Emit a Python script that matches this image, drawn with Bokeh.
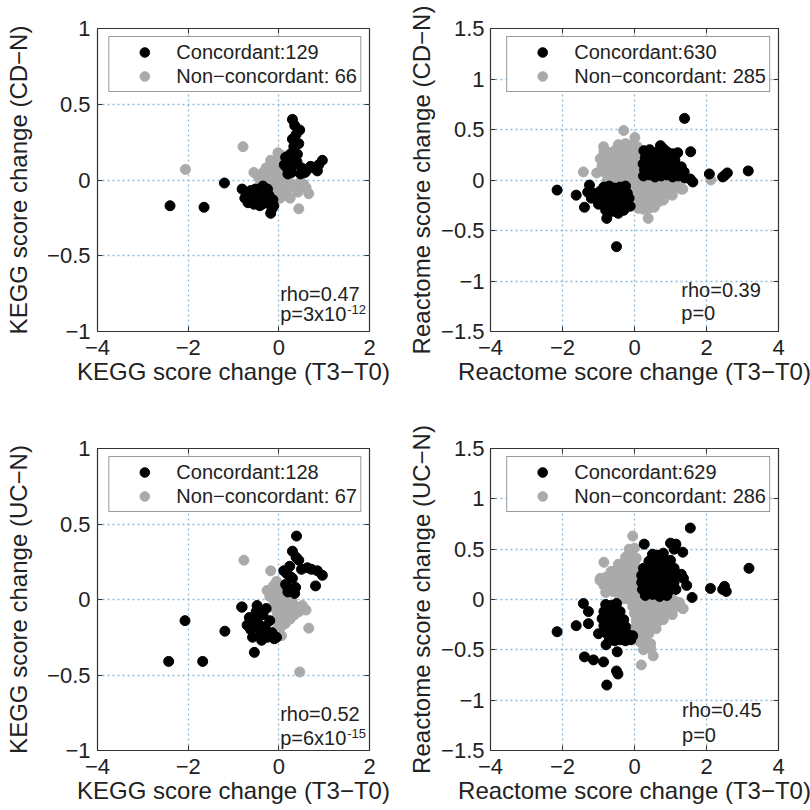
from bokeh.plotting import figure
from bokeh.models import (FixedTicker, CustomJSTickFormatter, LinearAxis, Legend,
                          LegendItem, Label, Range1d)
from bokeh.layouts import column, row
from bokeh.embed import file_html
from bokeh.resources import INLINE

# ---------------- data ----------------
# Panel A: KEGG, CD-N
kegg_cd_conc_x = [0.30, 0.46, 0.38, 0.30, 0.33, 0.41, 0.25, 0.15, 0.22, 0.18, 0.30, 0.40, 0.50, 0.48,
                  0.63, 0.70, 0.85, 0.96, 0.88, 0.78, 0.58, 0.12, 0.28, 0.20, 0.35, 0.44, 0.27,
                  -2.40, -1.65, -1.20, -0.81, -0.72, -0.66, -0.60, -0.55, -0.50, -0.45, -0.40, -0.35,
                  -0.30, -0.26, -0.52, -0.62, -0.42, -0.20, -0.15, -0.18, -0.11, -0.25, -0.68, -0.35,
                  -0.75, -0.57, -0.47, -0.37, -0.22, -0.13]
kegg_cd_conc_y = [0.40, 0.33, 0.30, 0.27, 0.22, 0.17, 0.17, 0.15, 0.12, 0.08, 0.10, 0.12, 0.08, 0.04,
                  0.07, 0.09, 0.06, 0.13, 0.10, 0.08, 0.05, 0.10, 0.05, 0.04, 0.36, 0.24, 0.13,
                  -0.17, -0.18, -0.02, -0.06, -0.09, -0.11, -0.14, -0.16, -0.10, -0.13, -0.07, -0.11,
                  -0.15, -0.11, -0.06, -0.07, -0.17, -0.16, -0.19, -0.22, -0.17, -0.06, -0.15, -0.04,
                  -0.12, -0.09, -0.15, -0.16, -0.10, -0.13]
kegg_cd_non_x = [-2.06, -0.79, 0.66, 0.44, -0.45, -0.35, -0.25, -0.18, -0.12, -0.08, -0.05, 0.00, 0.05,
                 -0.15, -0.30, 0.08, 0.15, 0.22, 0.30, 0.38, 0.48, 0.55, 0.10, 0.03, -0.05, 0.18, 0.08,
                 -0.02, 0.12, -0.20, 0.25, -0.08, 0.02, -0.55, 0.60, -0.40, -0.28, 0.06, 0.20, 0.42]
kegg_cd_non_y = [0.07, 0.22, -0.09, -0.19, 0.02, 0.05, 0.03, 0.13, 0.08, 0.12, 0.04, 0.09, 0.02,
                 0.00, -0.02, -0.04, -0.02, -0.05, -0.03, -0.05, -0.01, -0.03, -0.09, -0.12, -0.08, -0.10, 0.16,
                 0.18, 0.05, 0.07, -0.12, -0.02, -0.03, 0.05, -0.05, -0.01, 0.08, 0.11, 0.02, -0.08]

# Panel B: Reactome, CD-N
react_cd_conc_x = [1.39, 0.72, 0.80, 1.56, 2.08, 2.45, 2.58, 2.52, 3.16, 1.62,
                   0.26, 0.42, 0.58, 0.90, 1.05, 1.20,
                   0.30, 0.46, 0.62, 0.78, 0.95, 1.12,
                   0.24, 0.40, 0.56, 0.73, 0.88, 1.04, 1.18, 1.30,
                   0.28, 0.44, 0.60, 0.76, 0.92, 1.08, 1.24, 1.38,
                   0.25, 0.41, 0.57, 0.74, 0.90, 1.06, 1.22, 1.40, 1.55,
                   -2.15, -1.62, -1.39, -0.77, -0.50, -0.45,
                   -1.25, -0.85, -0.70, -0.55, -0.40, -0.25,
                   -1.30, -1.15, -0.95, -0.80, -0.65, -0.50, -0.35, -0.20,
                   -1.20, -1.05, -0.90, -0.75, -0.60, -0.45, -0.30, -0.15,
                   -1.00, -0.85, -0.70, -0.55, -0.40, -0.25, -0.12,
                   -0.80, -0.60, -0.45, -0.30]
react_cd_conc_y = [0.61, 0.34, 0.31, 0.28, 0.06, 0.03, 0.07, 0.05, 0.09, -0.02,
                   0.29, 0.30, 0.27, 0.28, 0.26, 0.27,
                   0.22, 0.23, 0.21, 0.22, 0.21, 0.20,
                   0.16, 0.15, 0.17, 0.16, 0.15, 0.16, 0.14, 0.13,
                   0.10, 0.11, 0.09, 0.10, 0.11, 0.09, 0.10, 0.08,
                   0.04, 0.05, 0.03, 0.04, 0.05, 0.03, 0.04, 0.02, 0.01,
                   -0.10, -0.15, -0.27, -0.38, -0.66, -0.33,
                   -0.05, -0.07, -0.06, -0.08, -0.07, -0.06,
                   -0.12, -0.13, -0.11, -0.13, -0.12, -0.14, -0.12, -0.13,
                   -0.18, -0.19, -0.17, -0.19, -0.18, -0.19, -0.17, -0.18,
                   -0.24, -0.25, -0.23, -0.25, -0.24, -0.25, -0.26,
                   -0.30, -0.31, -0.29, -0.30]
react_cd_non_x = [-1.42, 2.12, 1.34, -0.86, 0.38,
                  -0.30, 0.01,
                  -0.45, -0.25, -0.08, 0.08,
                  -0.85, -0.70, -0.55, -0.40, -0.25, -0.10, 0.05,
                  -0.95, -0.80, -0.65, -0.50, -0.35, -0.20, -0.05, 0.10,
                  -0.90, -0.75, -0.60, -0.45, -0.30, -0.15, 0.00, 0.12,
                  -1.05, -0.85, -0.70, -0.55, -0.40, -0.25, -0.10, 0.05, 0.18,
                  -0.75, -0.60, -0.45, -0.30, -0.15, 0.00, 0.15, 0.30, 0.45, 0.60, 0.75, 0.90, 1.05, 1.20,
                  -0.05, 0.10, 0.25, 0.40, 0.55, 0.70, 0.85, 1.00, 1.15, 1.30,
                  0.00, 0.15, 0.30, 0.45, 0.60, 0.75, 0.90, 1.05,
                  0.05, 0.20, 0.35, 0.50, 0.65, 0.80,
                  0.10, 0.25, 0.40, 0.55]
react_cd_non_y = [0.08, 0.00, -0.09, 0.33, -0.38,
                  0.49, 0.42,
                  0.35, 0.36, 0.34, 0.33,
                  0.28, 0.27, 0.29, 0.28, 0.27, 0.29, 0.28,
                  0.21, 0.22, 0.20, 0.21, 0.22, 0.21, 0.20, 0.21,
                  0.14, 0.15, 0.13, 0.14, 0.15, 0.14, 0.13, 0.14,
                  0.07, 0.08, 0.06, 0.07, 0.08, 0.07, 0.06, 0.07, 0.06,
                  0.00, 0.01, -0.01, 0.00, 0.01, -0.01, 0.00, -0.01, -0.02, -0.01, -0.02, -0.03, -0.02, -0.04,
                  -0.07, -0.08, -0.06, -0.07, -0.08, -0.07, -0.06, -0.08, -0.07, -0.09,
                  -0.14, -0.15, -0.13, -0.14, -0.15, -0.13, -0.14, -0.15,
                  -0.21, -0.22, -0.20, -0.21, -0.22, -0.20,
                  -0.28, -0.29, -0.28, -0.27]

# Panel C: KEGG, UC-N
kegg_uc_conc_x = [-2.43, -2.07, -1.68, -1.19, -0.82, -0.54,
                  -0.70, -0.62, -0.55, -0.50, -0.45, -0.40, -0.35, -0.30, -0.25, -0.20, -0.15, -0.10,
                  -0.58, -0.48, -0.38, -0.28, -0.65, -0.42, -0.05, -0.81, -0.33, -0.52,
                  0.39, 0.30, 0.44, 0.38, 0.11, 0.18, 0.26, 0.63, 0.85, 0.96, 0.81, 0.37,
                  0.19, 0.28, 0.30, 0.15, 0.50, 0.20, 0.35, 0.72, 0.24]
kegg_uc_conc_y = [-0.41, -0.14, -0.41, -0.21, -0.05, -0.35,
                  -0.17, -0.20, -0.12, -0.08, -0.16, -0.22, -0.10, -0.18, -0.25, -0.14, -0.22, -0.26,
                  -0.25, -0.04, -0.27, -0.06, -0.12, -0.19, -0.25, -0.05, -0.24, -0.14,
                  0.42, 0.32, 0.26, 0.28, 0.19, 0.17, 0.15, 0.21, 0.19, 0.16, 0.09, 0.08,
                  0.08, 0.06, 0.14, 0.10, 0.20, 0.05, 0.04, 0.20, 0.22]
kegg_uc_non_x = [-0.77, -0.18, 0.66, 0.46, -0.05, 0.00, -0.10, -0.08, 0.02, 0.08, -0.02, 0.05, 0.12,
                 0.18, 0.25, 0.30, 0.38, 0.45, 0.52, 0.10, 0.00, -0.05, 0.05, 0.15, -0.15, -0.20,
                 0.10, 0.20, 0.06, -0.03, 0.35, 0.25, 0.60, -0.26, 0.04, -0.12, 0.14]
kegg_uc_non_y = [0.26, 0.19, -0.19, -0.48, 0.12, 0.08, 0.05, 0.00, 0.02, -0.02, -0.06, -0.08, -0.05,
                 -0.03, -0.06, -0.02, -0.05, -0.08, -0.04, -0.12, -0.15, -0.20, -0.18, -0.10, -0.05, 0.02,
                 0.04, 0.00, -0.24, -0.10, -0.10, -0.13, -0.07, 0.06, -0.09, 0.09, -0.16]

# Panel D: Reactome, UC-N
react_uc_conc_x = [-2.15, -1.62, -1.42, -1.28, -1.28, -1.00, -0.79, -1.39, -1.14, -0.86, -0.77, -0.50,
                   -0.46, -0.48,
                   -0.80, -0.65, -0.50,
                   -0.85, -0.70, -0.55, -0.40,
                   -0.90, -0.75, -0.60, -0.45, -0.30,
                   -0.85, -0.70, -0.55, -0.40, -0.25,
                   -0.80, -0.65, -0.50, -0.35, -0.20, -0.05,
                   -0.70, -0.55, -0.40, -0.25, -0.10,
                   1.55, 0.27, 1.00, 1.15, 1.10, 1.34, 1.36, 1.30, 1.45, 1.60, 2.11, 2.45, 2.55, 2.50, 3.18,
                   0.50, 0.65, 0.80,
                   0.40, 0.55, 0.70, 0.85, 1.00,
                   0.25, 0.40, 0.55, 0.70, 0.85, 1.00, 1.10,
                   0.20, 0.35, 0.50, 0.65, 0.80, 0.95, 1.10,
                   0.20, 0.35, 0.50, 0.65, 0.80, 0.95, 1.10,
                   0.22, 0.37, 0.52, 0.67, 0.82, 0.97, 1.15,
                   0.30, 0.50, 0.70, 0.90]
react_uc_conc_y = [-0.32, -0.26, -0.04, -0.12, -0.24, -0.34, -0.45, -0.57, -0.60, -0.62, -0.85, -0.71,
                   -0.74, -0.52,
                   -0.05, -0.06, -0.04,
                   -0.12, -0.13, -0.11, -0.12,
                   -0.19, -0.20, -0.18, -0.19, -0.20,
                   -0.26, -0.27, -0.25, -0.26, -0.27,
                   -0.33, -0.34, -0.32, -0.33, -0.34, -0.36,
                   -0.40, -0.41, -0.40, -0.41, -0.40,
                   0.71, 0.55, 0.56, 0.55, 0.50, 0.47, 0.21, 0.25, 0.14, 0.02, 0.11, 0.10, 0.08, 0.13, 0.31,
                   0.45, 0.44, 0.46,
                   0.38, 0.39, 0.37, 0.38, 0.39,
                   0.31, 0.32, 0.30, 0.31, 0.32, 0.30, 0.31,
                   0.24, 0.25, 0.23, 0.24, 0.25, 0.23, 0.24,
                   0.17, 0.18, 0.16, 0.17, 0.18, 0.16, 0.17,
                   0.10, 0.11, 0.09, 0.10, 0.11, 0.09, 0.10,
                   0.04, 0.05, 0.03, 0.04]
react_uc_non_x = [0.19, 0.52, 1.34, -0.96,
                  -0.05,
                  -0.15, 0.00,
                  -0.25, -0.08, 0.05,
                  -0.85, -0.45, -0.30, -0.15, 0.00,
                  -0.65, -0.50, -0.35, -0.20, -0.05, 0.08,
                  -0.95, -0.80, -0.65, -0.50, -0.35, -0.20, -0.05, 0.10,
                  -0.85, -0.70, -0.55, -0.40, -0.25, -0.10, 0.05, 0.15,
                  -0.80, -0.60, -0.45, -0.30, -0.15, 0.00, 0.15,
                  -0.40, -0.25, -0.10, 0.05, 0.20, 0.35, 0.50, 0.65, 0.80, 0.95, 1.10, 1.25,
                  -0.05, 0.10, 0.25, 0.40, 0.55, 0.70, 0.85, 1.00, 1.15, 1.35,
                  0.00, 0.15, 0.30, 0.45, 0.60, 0.75, 0.90, 1.05,
                  0.05, 0.20, 0.35, 0.50, 0.65, 0.80,
                  0.00, 0.15, 0.30, 0.45, 0.60,
                  0.10, 0.25, 0.40,
                  0.15, 0.30, 0.45,
                  0.25, 0.45]
react_uc_non_y = [-0.65, -0.56, -0.09, 0.19,
                  0.63,
                  0.50, 0.51,
                  0.42, 0.43, 0.41,
                  0.37, 0.35, 0.36, 0.34, 0.35,
                  0.28, 0.29, 0.27, 0.28, 0.29, 0.27,
                  0.21, 0.22, 0.20, 0.21, 0.22, 0.20, 0.21, 0.20,
                  0.14, 0.15, 0.13, 0.14, 0.15, 0.13, 0.14, 0.13,
                  0.07, 0.08, 0.06, 0.07, 0.08, 0.06, 0.07,
                  0.00, 0.01, -0.01, 0.00, 0.01, -0.01, 0.00, -0.01, 0.00, -0.02, -0.01, -0.03,
                  -0.07, -0.08, -0.06, -0.07, -0.08, -0.06, -0.07, -0.08, -0.07, -0.09,
                  -0.14, -0.15, -0.13, -0.14, -0.15, -0.13, -0.14, -0.15,
                  -0.21, -0.22, -0.20, -0.21, -0.22, -0.20,
                  -0.28, -0.29, -0.27, -0.28, -0.29,
                  -0.35, -0.36, -0.34,
                  -0.42, -0.43, -0.44,
                  -0.50, -0.49]

kegg_x_ticks = [-4, -2, 0, 2]
kegg_y_ticks = [-1, -0.5, 0, 0.5, 1]
react_x_ticks = [-4, -2, 0, 2, 4]
react_y_ticks = [-1.5, -1, -0.5, 0, 0.5, 1, 1.5]

counts = {"A": (129, 66), "B": (630, 285), "C": (128, 67), "D": (629, 286)}
rho_text = {"A": "rho=0.47", "B": "rho=0.39", "C": "rho=0.52", "D": "rho=0.45"}
p_text = {"A": ("p=3x10", "-12"), "B": ("p=0", ""), "C": ("p=6x10", "-15"), "D": ("p=0", "")}

# ---------------- styling ----------------
FONT = "Liberation Sans"
GRAY = "#aaaaaa"
GRID = "#8fbbd9"
FRAME = "#333333"
TXT = "#222222"

fmt_code = "return tick < 0 ? '\u2212' + String(Math.abs(tick)) : String(tick);"


def panel(cx, cy, nx, ny, xr, yr, xt, yt, xlabel, ylabel, key, borders, ystand, rho_pos, p_pos):
    l, r, t, b = borders
    p = figure(width=405, height=405, output_backend="svg", toolbar_location=None,
               x_range=Range1d(*xr), y_range=Range1d(*yr),
               min_border_left=l, min_border_right=r, min_border_top=t, min_border_bottom=b)
    p.background_fill_color = "white"
    p.border_fill_color = "white"
    p.outline_line_color = FRAME
    p.outline_line_width = 1.2

    for ax, ticks, lab in ((p.xaxis[0], xt, xlabel), (p.yaxis[0], yt, ylabel)):
        ax.ticker = FixedTicker(ticks=ticks)
        ax.formatter = CustomJSTickFormatter(code=fmt_code)
        ax.axis_label = lab
        ax.axis_label_text_font = FONT
        ax.axis_label_text_font_size = "24px"
        ax.axis_label_text_font_style = "normal"
        ax.axis_label_text_color = TXT
        ax.major_label_text_font = FONT
        ax.major_label_text_font_size = "22px"
        ax.major_label_text_color = TXT
        ax.major_tick_in = 5
        ax.major_tick_out = 0
        ax.major_tick_line_color = FRAME
        ax.minor_tick_line_color = None
        ax.axis_line_color = None
    p.xaxis[0].major_label_standoff = 8
    p.xaxis[0].axis_label_standoff = 0
    p.yaxis[0].major_label_standoff = ystand[0]
    p.yaxis[0].axis_label_standoff = ystand[1]

    for side, ticks in (("above", xt), ("right", yt)):
        ax = LinearAxis(ticker=FixedTicker(ticks=ticks),
                        formatter=CustomJSTickFormatter(code="return '';"),
                        major_tick_in=5, major_tick_out=0, minor_tick_line_color=None,
                        axis_line_color=None, major_tick_line_color=FRAME,
                        major_label_standoff=0, major_label_text_font_size="1px")
        p.add_layout(ax, side)

    for g in (p.xgrid[0], p.ygrid[0]):
        g.grid_line_color = GRID
        g.grid_line_dash = "2 3"
        g.grid_line_width = 1.3

    rn = p.scatter(nx, ny, size=10, marker="circle", fill_color=GRAY, line_color=GRAY)
    rc = p.scatter(cx, cy, size=10, marker="circle", fill_color="black", line_color="black")

    nc, nn = counts[key]
    legend = Legend(items=[LegendItem(label=f"Concordant:{nc}", renderers=[rc]),
                           LegendItem(label=f"Non\u2212concordant: {nn}", renderers=[rn])],
                    location="top_right", margin=8, padding=3, spacing=0,
                    glyph_width=64, glyph_height=24, label_height=24, label_standoff=0,
                    label_text_font=FONT, label_text_font_size="20px", label_text_color=TXT,
                    border_line_color=FRAME, border_line_width=1.2,
                    background_fill_color="white", background_fill_alpha=1.0)
    p.add_layout(legend)

    p.add_layout(Label(x=rho_pos[0], y=rho_pos[1], text=rho_text[key], text_font=FONT,
                       text_font_size="20px", text_baseline="middle", text_color=TXT))
    base, sup = p_text[key]
    p.add_layout(Label(x=p_pos[0], y=p_pos[1], text=base, text_font=FONT,
                       text_font_size="20px", text_baseline="middle", text_color=TXT))
    if sup:
        p.add_layout(Label(x=p_pos[0], y=p_pos[1], x_offset=67, y_offset=5, text=sup,
                           text_font=FONT, text_font_size="13px", text_baseline="middle",
                           text_color=TXT))
    return p


pA = panel(kegg_cd_conc_x, kegg_cd_conc_y, kegg_cd_non_x, kegg_cd_non_y, (-4, 2), (-1, 1),
           kegg_x_ticks, kegg_y_ticks, "KEGG score change (T3\u2212T0)", "KEGG score change (CD\u2212N)",
           "A", (97, 36, 28, 74), (7, 12), (0.03, -0.75), (0.03, -0.885))
pB = panel(react_cd_conc_x, react_cd_conc_y, react_cd_non_x, react_cd_non_y, (-4, 4), (-1.5, 1.5),
           react_x_ticks, react_y_ticks, "Reactome score change (T3\u2212T0)",
           "Reactome score change (CD\u2212N)", "B", (83, 32, 28, 74), (6, 3), (1.3, -1.09), (1.3, -1.32))
pC = panel(kegg_uc_conc_x, kegg_uc_conc_y, kegg_uc_non_x, kegg_uc_non_y, (-4, 2), (-1, 1),
           kegg_x_ticks, kegg_y_ticks, "KEGG score change (T3\u2212T0)", "KEGG score change (UC\u2212N)",
           "C", (97, 36, 43, 60), (7, 12), (0.03, -0.76), (0.03, -0.92))
pD = panel(react_uc_conc_x, react_uc_conc_y, react_uc_non_x, react_uc_non_y, (-4, 4), (-1.5, 1.5),
           react_x_ticks, react_y_ticks, "Reactome score change (T3\u2212T0)",
           "Reactome score change (UC\u2212N)", "D", (83, 32, 43, 60), (6, 3), (1.32, -1.10), (1.32, -1.35))

layout = column(row(pA, pB), row(pC, pD))
open("out.html", "w").write(file_html(layout, INLINE))
